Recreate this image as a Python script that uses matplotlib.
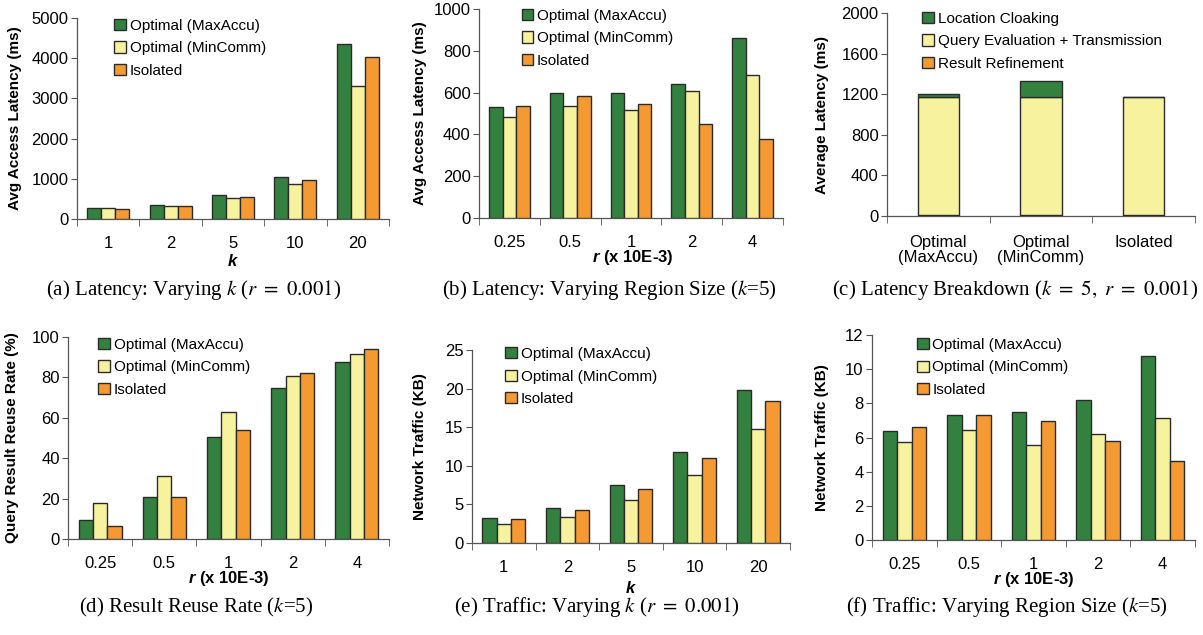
import numpy as np
import matplotlib
matplotlib.use('Agg')
import matplotlib.pyplot as plt
from matplotlib.ticker import FixedLocator, NullFormatter
from matplotlib.patches import Patch

plt.rcParams['font.family'] = ['Liberation Sans', 'DejaVu Sans']
plt.rcParams['mathtext.fontset'] = 'custom'
plt.rcParams['mathtext.bfit'] = 'Liberation Sans:bold:italic'
plt.rcParams['mathtext.rm'] = 'Liberation Sans:bold'

#%% data
series = ['Optimal (MaxAccu)', 'Optimal (MinComm)', 'Isolated']
k_labels = ['1', '2', '5', '10', '20']
r_labels = ['0.25', '0.5', '1', '2', '4']

lat_k_maxaccu = [270, 360, 595, 1055, 4350]
lat_k_mincomm = [265, 335, 510, 860, 3300]
lat_k_isolated = [245, 325, 540, 970, 4020]

lat_r_maxaccu = [530, 600, 598, 643, 859]
lat_r_mincomm = [485, 538, 515, 606, 686]
lat_r_isolated = [536, 586, 546, 451, 378]

bd_labels = ['Optimal\n(MaxAccu)', 'Optimal\n(MinComm)', 'Isolated']
bd_parts = ['Location Cloaking', 'Query Evaluation + Transmission', 'Result Refinement']
bd_cloaking = [27, 150, 0]
bd_query = [1168, 1168, 1168]
bd_refine = [8, 8, 8]

reuse_maxaccu = [9.4, 20.8, 50.4, 74.7, 87.6]
reuse_mincomm = [18.0, 31.0, 63.1, 80.5, 91.7]
reuse_isolated = [6.4, 21.0, 54.0, 82.1, 94.2]

traffic_k_maxaccu = [3.28, 4.53, 7.54, 11.85, 19.8]
traffic_k_mincomm = [2.41, 3.40, 5.56, 8.79, 14.74]
traffic_k_isolated = [3.06, 4.22, 6.98, 10.99, 18.4]

traffic_r_maxaccu = [6.38, 7.34, 7.51, 8.20, 10.75]
traffic_r_mincomm = [5.76, 6.42, 5.56, 6.22, 7.12]
traffic_r_isolated = [6.60, 7.32, 6.95, 5.80, 4.64]

captions = [r'(a) Latency: Varying $k$ ($r\ =\ 0.001$)',
            r'(b) Latency: Varying Region Size ($k$=5)',
            r'(c) Latency Breakdown ($k\ =\ 5,\ r\ =\ 0.001$)',
            r'(d) Result Reuse Rate ($k$=5)',
            r'(e) Traffic: Varying $k$ ($r\ =\ 0.001$)',
            r'(f) Traffic: Varying Region Size ($k$=5)']

colors = ['#33813f', '#f7f29d', '#f59a32']
edge = '#2b2b2b'
W, H = 1203, 635

fig = plt.figure(figsize=(W / 100, H / 100), dpi=100)


def px_axes(left, right, top, bottom):
    return fig.add_axes([left / W, 1 - bottom / H, (right - left) / W, (bottom - top) / H])


def style(ax, ngroups, ymax, yticks, labels, ylabel, ylab_x):
    for s in ['top', 'right']:
        ax.spines[s].set_visible(False)
    for s in ['left', 'bottom']:
        ax.spines[s].set_color('#555555')
        ax.spines[s].set_linewidth(0.9)
    ax.set_xlim(-0.5, ngroups - 0.5)
    ax.set_ylim(0, ymax)
    ax.set_yticks(yticks)
    ax.tick_params(axis='y', labelsize=12, length=4, color='#555555', pad=2)
    ax.set_xticks(range(ngroups))
    ax.set_xticklabels(labels)
    ax.tick_params(axis='x', which='major', length=0, labelsize=12, pad=12)
    ax.xaxis.set_minor_locator(FixedLocator(np.arange(ngroups + 1) - 0.5))
    ax.xaxis.set_minor_formatter(NullFormatter())
    ax.tick_params(axis='x', which='minor', length=5, color='#555555', direction='out')
    ax.set_ylabel(ylabel, fontsize=11, fontweight='bold')
    ax.yaxis.set_label_coords(ylab_x, 0.5)


def add_legend(ax, bbox, handles=None, labels=None):
    kw = dict(loc='upper left', bbox_to_anchor=bbox, frameon=False, fontsize=11,
              handlelength=0.75, handleheight=0.75, handletextpad=0.25,
              labelspacing=0.55, borderpad=0, borderaxespad=0)
    if handles is None:
        ax.legend(**kw)
    else:
        ax.legend(handles, labels, **kw)


def grouped(ax, vals, bbox):
    w = 0.224
    x = np.arange(len(vals[0]))
    for i, v in enumerate(vals):
        ax.bar(x + (i - 1) * w, v, w, color=colors[i], edgecolor=edge, linewidth=1.0,
               label=series[i], zorder=3)
    add_legend(ax, bbox)


def xlab(ax, text, x, y):
    ax.set_xlabel(text, fontsize=12, fontweight='bold')
    ax.xaxis.set_label_coords(x, y)


# (a)
ax = px_axes(77, 389, 18, 219)
grouped(ax, [lat_k_maxaccu, lat_k_mincomm, lat_k_isolated], (0.12, 0.995))
style(ax, 5, 5000, [0, 1000, 2000, 3000, 4000, 5000], k_labels, 'Avg Access Latency (ms)', -0.176)
xlab(ax, r'$\mathbfit{k}$', 0.5, -0.17)

# (b)
ax = px_axes(479, 783, 9, 218)
grouped(ax, [lat_r_maxaccu, lat_r_mincomm, lat_r_isolated], (0.14, 1.0))
style(ax, 5, 1000, [0, 200, 400, 600, 800, 1000], r_labels, 'Avg Access Latency (ms)', -0.171)
xlab(ax, r'$\mathbfit{r}$ (x 10E-3)', 0.507, -0.142)

# (c) stacked breakdown
ax = px_axes(887, 1195, 13, 216)
x = np.arange(3)
bw = 0.4
ax.bar(x, bd_refine, bw, color=colors[2], edgecolor=edge, linewidth=1.0, zorder=3)
ax.bar(x, bd_query, bw, bottom=bd_refine, color=colors[1], edgecolor=edge, linewidth=1.0, zorder=3)
bot = np.array(bd_refine) + np.array(bd_query)
ax.bar(x, bd_cloaking, bw, bottom=bot, color=colors[0], edgecolor=edge, linewidth=1.0, zorder=3)
handles = [Patch(facecolor=colors[i], edgecolor=edge, linewidth=1.0) for i in range(3)]
add_legend(ax, (0.115, 1.005), handles, bd_parts)
style(ax, 3, 2000, [0, 400, 800, 1200, 1600, 2000], bd_labels, 'Average Latency (ms)', -0.188)
for t in ax.get_xticklabels():
    t.set_linespacing(1.0)
ax.tick_params(axis='x', which='major', pad=14)

# (d)
ax = px_axes(68, 389, 337, 539)
grouped(ax, [reuse_maxaccu, reuse_mincomm, reuse_isolated], (0.095, 0.995))
style(ax, 5, 100, [0, 20, 40, 60, 80, 100], r_labels, 'Query Result Reuse Rate (%)', -0.153)
xlab(ax, r'$\mathbfit{r}$ (x 10E-3)', 0.5, -0.15)

# (e)
ax = px_axes(472, 790, 350, 543)
grouped(ax, [traffic_k_maxaccu, traffic_k_mincomm, traffic_k_isolated], (0.105, 1.015))
style(ax, 5, 25, [0, 5, 10, 15, 20, 25], k_labels, 'Network Traffic (KB)', -0.142)
xlab(ax, r'$\mathbfit{k}$', 0.5, -0.19)

# (f)
ax = px_axes(872, 1195, 335, 540)
grouped(ax, [traffic_r_maxaccu, traffic_r_mincomm, traffic_r_isolated], (0.14, 0.985))
style(ax, 5, 12, [0, 2, 4, 6, 8, 10, 12], r_labels, 'Network Traffic (KB)', -0.133)
xlab(ax, r'$\mathbfit{r}$ (x 10E-3)', 0.5, -0.147)

#%% captions
cap_pos = [(194, 290), (609, 290), (1015, 290), (196, 607), (597, 607), (1007, 607)]
for (cx, cy), c in zip(cap_pos, captions):
    fig.text(cx / W, 1 - cy / H, c, ha='center', va='center', fontsize=15,
             family='Liberation Serif', math_fontfamily='stix')

fig.savefig('out.png', dpi=100)
